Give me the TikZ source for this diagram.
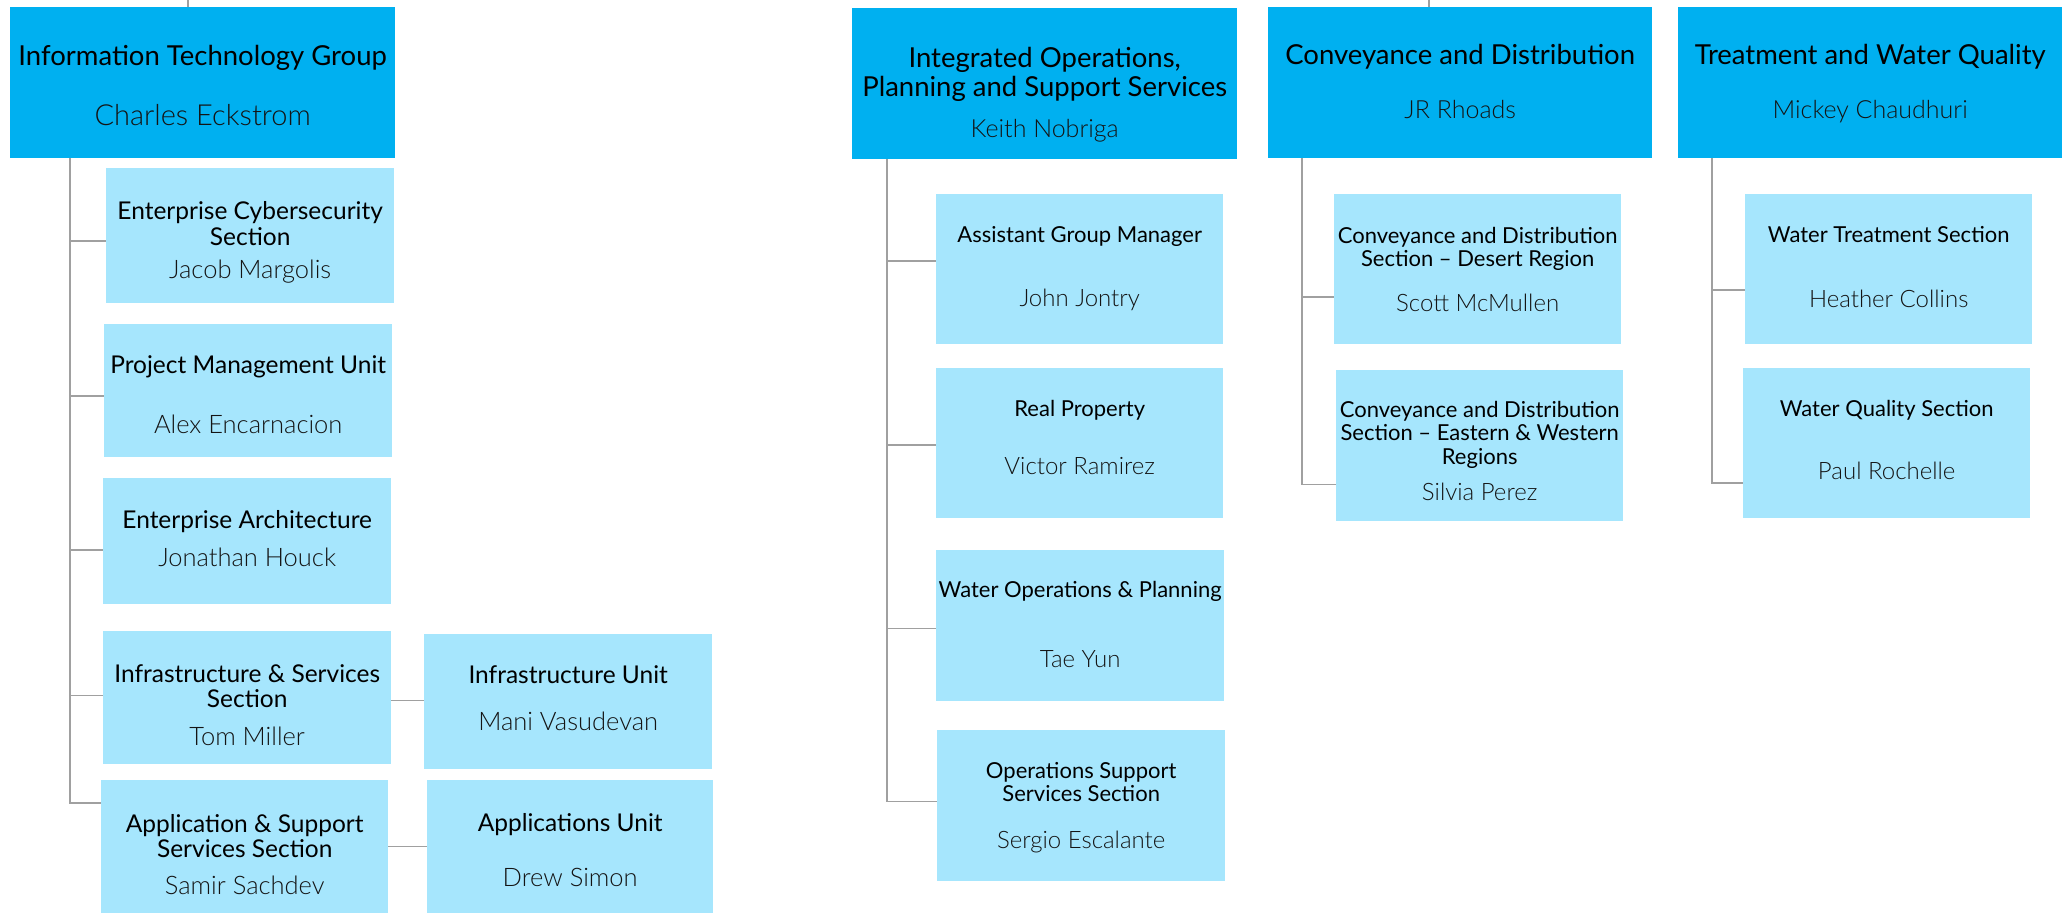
\documentclass[tikz,border=0pt]{standalone}
\usepackage{fontspec}
\setmainfont{Lato}
\newfontfamily\namefont{Lato Light}
\definecolor{grpblue}{HTML}{00B0F0}
\definecolor{unitblue}{HTML}{A6E6FD}
\definecolor{linkgray}{HTML}{A0A0A0}
\definecolor{namegray}{HTML}{141414}
\newcommand{\who}[2]{{\namefont\fontsize{#1}{#1}\selectfont\color{namegray}#2}}

\begin{document}
\begin{tikzpicture}[x=1pt,y=-1pt,
    grp/.style={rectangle, fill=grpblue, anchor=north west, inner sep=0pt, align=center, minimum width=385pt, font=\fontsize{27.5}{29}\selectfont},
    unit/.style={rectangle, fill=unitblue, anchor=north west, inner sep=0pt, align=center, minimum width=288pt},
    hd/.style 2 args={text height=#1pt, text depth=#2pt},
    big/.style={font=\fontsize{24.5}{25.5}\selectfont},
    small/.style={font=\fontsize{22}{23}\selectfont},
    link/.style={draw=linkgray, line width=1.5pt}]
    \useasboundingbox (0,0) rectangle (2064,913);

    % information technology
    \node[grp, hd={118.7}{32.3}] (itgroup) at (10,7) {Information Technology Group\\[31pt]\who{29}{Charles Eckstrom}};
    \node[unit, big, hd={110.5}{24.5}] (cyber) at (106,168) {Enterprise Cybersecurity\\Section\\[8pt]\who{25.5}{Jacob Margolis}};
    \node[unit, big, hd={109.2}{23.8}] (pmu) at (104,324) {Project Management Unit\\[34pt]\who{25.5}{Alex Encarnacion}};
    \node[unit, big, hd={88.2}{37.8}] (entarch) at (103,478) {Enterprise Architecture\\[12pt]\who{25.5}{Jonathan Houck}};
    \node[unit, big, hd={114.2}{18.8}] (infsvc) at (103,631) {Infrastructure \& Services\\Section\\[12pt]\who{25.5}{Tom Miller}};
    \node[unit, big, hd={95.9}{39.1}] (infunit) at (424,634) {Infrastructure Unit\\[21pt]\who{25.5}{Mani Vasudevan}};
    \node[unit, big, hd={114.2}{18.8}, minimum width=287pt] (appsvc) at (101,780) {Application \& Support\\Services Section\\[11pt]\who{25.5}{Samir Sachdev}};
    \node[unit, big, hd={105.9}{27.1}, minimum width=286pt] (appunit) at (427,780) {Applications Unit\\[29pt]\who{25.5}{Drew Simon}};

    % integrated operations
    \node[grp, hd={129.5}{21.5}] (intops) at (852,8) {Integrated Operations,\\Planning and Support Services\\[12.5pt]\who{25}{Keith Nobriga}};
    \node[unit, small, hd={112}{38}, minimum width=287pt] (agm) at (936,194) {Assistant Group Manager\\[41pt]\who{24}{John Jontry}};
    \node[unit, small, hd={106.5}{43.5}, minimum width=287pt] (realprop) at (936,368) {Real Property\\[35pt]\who{24}{Victor Ramirez}};
    \node[unit, small, hd={117.3}{33.7}] (waterops) at (936,550) {Water Operations \& Planning\\[47pt]\who{24}{Tae Yun}};
    \node[unit, small, hd={118.3}{32.7}] (opssupport) at (937,730) {Operations Support\\Services Section\\[24pt]\who{24}{Sergio Escalante}};

    % conveyance
    \node[grp, hd={111.5}{39.5}, minimum width=384pt] (conv) at (1268,7) {Conveyance and Distribution\\[25pt]\who{25}{JR Rhoads}};
    \node[unit, small, hd={117.6}{32.4}, minimum width=287pt] (cdesert) at (1334,194) {Conveyance and Distribution\\Section -- Desert Region\\[22pt]\who{24}{Scott McMullen}};
    \node[unit, small, hd={130}{21}, minimum width=287pt, font=\fontsize{22}{23.7}\selectfont] (ceastwest) at (1336,370) {Conveyance and Distribution\\Section -- Eastern \& Western\\Regions\\[12pt]\who{24}{Silvia Perez}};

    % treatment
    \node[grp, hd={111.5}{39.5}, minimum width=384pt] (treat) at (1678,7) {Treatment and Water Quality\\[25pt]\who{25}{Mickey Chaudhuri}};
    \node[unit, small, hd={113.2}{36.8}, minimum width=287pt] (wtreat) at (1745,194) {Water Treatment Section\\[42pt]\who{24}{Heather Collins}};
    \node[unit, small, hd={111.7}{38.3}, minimum width=287pt] (wquality) at (1743,368) {Water Quality Section\\[40pt]\who{24}{Paul Rochelle}};

    % connectors
    \coordinate (ittop) at (188,0);
    \coordinate (convtop) at (1429,0);
    \draw[link] (ittop) -- (ittop |- itgroup.north);
    \draw[link] (convtop) -- (convtop |- conv.north);

    \draw[link] ([xshift=60pt]itgroup.south west) |- ([yshift=-5.5pt]cyber.west);
    \draw[link] ([xshift=60pt]itgroup.south west) |- ([yshift=-5.5pt]pmu.west);
    \draw[link] ([xshift=60pt]itgroup.south west) |- ([yshift=-9pt]entarch.west);
    \draw[link] ([xshift=60pt]itgroup.south west) |- ([yshift=2pt]infsvc.west);
    \draw[link] ([xshift=60pt]itgroup.south west) |- ([yshift=43.5pt]appsvc.west);
    \draw[link] ([yshift=-3pt]infsvc.east) -- ([yshift=-3pt]infsvc.east -| infunit.west);
    \draw[link] (appsvc.east) -- (appsvc.east -| appunit.west);

    \draw[link] ([xshift=35pt]intops.south west) |- ([yshift=8pt]agm.west);
    \draw[link] ([xshift=35pt]intops.south west) |- ([yshift=-2pt]realprop.west);
    \draw[link] ([xshift=35pt]intops.south west) |- ([yshift=-3pt]waterops.west);
    \draw[link] ([xshift=35pt]intops.south west) |- ([yshift=4pt]opssupport.west);

    \draw[link] ([xshift=34pt]conv.south west) |- ([yshift=-28pt]cdesert.west);
    \draw[link] ([xshift=34pt]conv.south west) |- ([yshift=-39pt]ceastwest.west);

    \draw[link] ([xshift=34pt]treat.south west) |- ([yshift=-21pt]wtreat.west);
    \draw[link] ([xshift=34pt]treat.south west) |- ([yshift=-40pt]wquality.west);
\end{tikzpicture}
\end{document}
